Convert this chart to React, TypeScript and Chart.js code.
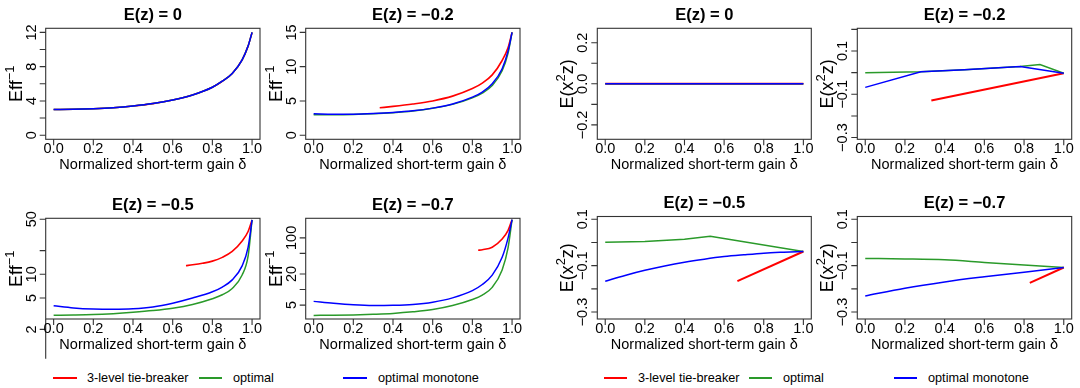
import React, { useEffect, useRef } from 'react';
import { Chart, registerables } from 'chart.js';
Chart.register(...registerables);

const FONT = '"Liberation Sans", Arial, Helvetica, sans-serif';
const RED = '#FF0000';
const GREEN = '#2a9a2a';
const BLUE = '#0000FF';
const AXIS_COLOR = '#333333';

const X_TICKS = [0, 0.2, 0.4, 0.6, 0.8, 1];
const X_TICK_LABELS = ['0.0', '0.2', '0.4', '0.6', '0.8', '1.0'];
const X_AXIS_TITLE = 'Normalized short-term gain δ';
const TITLES = ['E(z) = 0', 'E(z) = −0.2', 'E(z) = −0.5', 'E(z) = −0.7'];
const LEGEND_LABELS = ['3-level tie-breaker', 'optimal', 'optimal monotone'];

// ---- Eff^-1 panels ----
const EFF_GRID = [0, 0.1, 0.2, 0.3, 0.4, 0.5, 0.6, 0.7, 0.8, 0.85, 0.9, 0.95, 0.98, 1];
const EFF0_ALL = [3.0, 3.02, 3.09, 3.21, 3.41, 3.69, 4.1, 4.7, 5.6, 6.3, 7.2, 8.8, 10.4, 12.0];

const EFF2_GREEN = [3.0, 3.0, 3.03, 3.12, 3.28, 3.53, 3.93, 4.5, 5.45, 6.15, 7.25, 9.4, 12.0, 15.0];
const EFF2_BLUE = [3.12, 3.05, 3.06, 3.15, 3.3, 3.55, 3.95, 4.55, 5.55, 6.3, 7.5, 9.7, 12.3, 15.0];
const EFF2_RED_X = [0.333, 0.4, 0.5, 0.6, 0.7, 0.8, 0.85, 0.9, 0.95, 0.98, 1];
const EFF2_RED = [4.0, 4.2, 4.55, 5.0, 5.7, 6.8, 7.6, 8.8, 10.9, 12.8, 15.0];

const EFF5_GREEN = [3.02, 3.04, 3.08, 3.17, 3.3, 3.47, 3.72, 4.15, 4.9, 5.5, 6.6, 9.8, 17, 49];
const EFF5_BLUE = [3.99, 3.75, 3.63, 3.6, 3.65, 3.85, 4.3, 5.0, 6.0, 6.9, 8.5, 12.8, 22, 49];
const EFF5_RED_X = [0.667, 0.7, 0.75, 0.8, 0.85, 0.9, 0.95, 0.98, 1];
const EFF5_RED = [12.9, 13.2, 13.8, 14.7, 16.4, 19.5, 26.5, 35, 49];

const EFF7_GREEN = [3.16, 3.18, 3.23, 3.32, 3.45, 3.7, 4.1, 4.9, 6.4, 7.8, 11, 24, 65, 225];
const EFF7_BLUE = [5.9, 5.4, 5.05, 4.9, 4.95, 5.15, 5.7, 6.9, 9.5, 12.5, 19, 42, 100, 225];
const EFF7_RED_X = [0.829, 0.85, 0.9, 0.95, 0.98, 1];
const EFF7_RED = [57.5, 59, 66, 95, 140, 225];

// ---- E(x^2 z) panels ----
const EX0_X = [0, 1];
const EX0_ALL = [0, 0];

const EX2_GREEN_X = [0, 0.28, 0.5, 0.78, 0.88, 1];
const EX2_GREEN = [0.0, 0.004, 0.014, 0.028, 0.038, -0.003];
const EX2_BLUE_X = [0, 0.28, 0.5, 0.78, 1];
const EX2_BLUE = [-0.068, 0.004, 0.014, 0.028, -0.003];
const EX2_RED_X = [0.333, 1];
const EX2_RED = [-0.129, -0.003];

const EX5_GREEN_X = [0, 0.2, 0.4, 0.53, 1];
const EX5_GREEN = [0.001, 0.004, 0.014, 0.027, -0.039];
const EX5_BLUE_X = [0, 0.1, 0.2, 0.3, 0.4, 0.5, 0.6, 0.7, 0.8, 0.9, 1];
const EX5_BLUE = [-0.167, -0.142, -0.12, -0.101, -0.085, -0.072, -0.061, -0.053, -0.046, -0.042, -0.039];
const EX5_RED_X = [0.667, 1];
const EX5_RED = [-0.167, -0.039];

const EX7_GREEN_X = [0, 0.2, 0.4, 0.6, 0.8, 1];
const EX7_GREEN = [-0.069, -0.071, -0.075, -0.086, -0.097, -0.108];
const EX7_BLUE_X = [0, 0.2, 0.4, 0.6, 0.8, 1];
const EX7_BLUE = [-0.231, -0.197, -0.17, -0.148, -0.128, -0.108];
const EX7_RED_X = [0.829, 1];
const EX7_RED = [-0.174, -0.108];

// ---- y axis ticks ----
const EFF0_YTICKS = [0, 2, 4, 6, 8, 10, 12];
const EFF0_YLABELS = [0, 4, 8, 12];
const EFF2_YTICKS = [0, 5, 10, 15];
const EFF2_YLABELS = [0, 5, 10, 15];
const EFF5_YTICKS = [2, 5, 10, 20, 50];
const EFF5_YLABELS = [2, 5, 10, 50];
const EFF7_YTICKS = [5, 10, 20, 50, 100];
const EFF7_YLABELS = [5, 20, 100];
const EX0_YTICKS = [-0.2, -0.1, 0, 0.1, 0.2];
const EX0_YLABELS = [-0.2, 0, 0.2];
const EX2_YTICKS = [-0.3, -0.2, -0.1, 0, 0.1, 0.2];
const EX2_YLABELS = [-0.3, -0.1, 0.1];
const EX57_YTICKS = [-0.3, -0.2, -0.1, 0, 0.1];
const EX57_YLABELS = [-0.3, -0.1, 0.1];

type Series = { x: number[]; y: number[]; color: string; width: number; smooth: boolean };
type Panel = {
  title: string;
  box: [number, number, number, number];
  yType: 'linear' | 'logarithmic';
  yMin: number;
  yMax: number;
  yTicks: number[];
  yLabels: number[];
  decimals: number;
  yTitle: { t: string; sup: boolean }[];
  axisFrom?: number;
  series: Series[];
};

const EFF_TITLE = [{ t: 'Eff', sup: false }, { t: '−1', sup: true }];
const EX_TITLE = [{ t: 'E(x', sup: false }, { t: '2', sup: true }, { t: 'z)', sup: false }];

// smooth curves (Eff panels): red slightly thinner; piecewise (E(x^2 z)) panels: red lwd 2
const s = (x: number[], y: number[], color: string, smooth: boolean, thickRed = false): Series => ({
  x, y, color, smooth, width: color === RED ? (thickRed ? 2 : 1.6) : 1.5,
});

const L1 = 45.7, R1 = 260, L2 = 305.7, R2 = 520;
const L3 = 597.3, R3 = 811.3, L4 = 857.3, R4 = 1071.7;
const T1 = 28.3, B1 = 139.3, T2 = 218.3, B2 = 319, T2R = 216.5;

// series listed top-most first (Chart.js draws the first dataset on top)
const PANELS: Panel[] = [
  {
    title: TITLES[0], box: [L1, T1, R1, B1], yType: 'linear', yMin: -0.48, yMax: 12.48,
    yTicks: EFF0_YTICKS, yLabels: EFF0_YLABELS, decimals: 0, yTitle: EFF_TITLE,
    series: [s(EFF_GRID, EFF0_ALL, BLUE, true), s(EFF_GRID, EFF0_ALL, GREEN, true), s(EFF_GRID, EFF0_ALL, RED, true)],
  },
  {
    title: TITLES[1], box: [L2, T1, R2, B1], yType: 'linear', yMin: -0.6, yMax: 15.6,
    yTicks: EFF2_YTICKS, yLabels: EFF2_YLABELS, decimals: 0, yTitle: EFF_TITLE,
    series: [s(EFF_GRID, EFF2_BLUE, BLUE, true), s(EFF_GRID, EFF2_GREEN, GREEN, true), s(EFF2_RED_X, EFF2_RED, RED, true)],
  },
  {
    title: TITLES[2], box: [L1, T2, R1, B2], yType: 'logarithmic', yMin: 2.71, yMax: 51.4,
    yTicks: EFF5_YTICKS, yLabels: EFF5_YLABELS, decimals: 0, yTitle: EFF_TITLE, axisFrom: 0.85,
    series: [s(EFF_GRID, EFF5_BLUE, BLUE, true), s(EFF_GRID, EFF5_GREEN, GREEN, true), s(EFF5_RED_X, EFF5_RED, RED, true)],
  },
  {
    title: TITLES[3], box: [L2, T2, R2, B2], yType: 'logarithmic', yMin: 2.69, yMax: 239,
    yTicks: EFF7_YTICKS, yLabels: EFF7_YLABELS, decimals: 0, yTitle: EFF_TITLE,
    series: [s(EFF_GRID, EFF7_BLUE, BLUE, true), s(EFF_GRID, EFF7_GREEN, GREEN, true), s(EFF7_RED_X, EFF7_RED, RED, true)],
  },
  {
    title: TITLES[0], box: [L3, T1, R3, B1], yType: 'linear', yMin: -0.27, yMax: 0.27,
    yTicks: EX0_YTICKS, yLabels: EX0_YLABELS, decimals: 1, yTitle: EX_TITLE,
    series: [s(EX0_X, EX0_ALL, BLUE, false), s(EX0_X, EX0_ALL, GREEN, false), s(EX0_X, EX0_ALL, RED, false, true)],
  },
  {
    title: TITLES[1], box: [L4, T1, R4, B1], yType: 'linear', yMin: -0.308, yMax: 0.205,
    yTicks: EX2_YTICKS, yLabels: EX2_YLABELS, decimals: 1, yTitle: EX_TITLE,
    series: [s(EX2_BLUE_X, EX2_BLUE, BLUE, false), s(EX2_GREEN_X, EX2_GREEN, GREEN, false), s(EX2_RED_X, EX2_RED, RED, false, true)],
  },
  {
    title: TITLES[2], box: [L3, T2R, R3, B2], yType: 'linear', yMin: -0.33, yMax: 0.112,
    yTicks: EX57_YTICKS, yLabels: EX57_YLABELS, decimals: 1, yTitle: EX_TITLE,
    series: [s(EX5_BLUE_X, EX5_BLUE, BLUE, true), s(EX5_GREEN_X, EX5_GREEN, GREEN, false), s(EX5_RED_X, EX5_RED, RED, false, true)],
  },
  {
    title: TITLES[3], box: [L4, T2R, R4, B2], yType: 'linear', yMin: -0.33, yMax: 0.112,
    yTicks: EX57_YTICKS, yLabels: EX57_YLABELS, decimals: 1, yTitle: EX_TITLE,
    series: [s(EX7_BLUE_X, EX7_BLUE, BLUE, true), s(EX7_GREEN_X, EX7_GREEN, GREEN, true), s(EX7_RED_X, EX7_RED, RED, false, true)],
  },
];

const fmt = (v: number, d: number) => {
  const str = Math.abs(v) < 1e-9 ? (0).toFixed(d) : v.toFixed(d);
  return str.replace('-', '−');
};

const TICK = 6;

const rAxes = {
  id: 'rAxes',
  afterDatasetsDraw(chart: any, _args: any, o: any) {
    const { ctx, chartArea: a } = chart;
    const xs = chart.scales.x;
    const ys = chart.scales.y;
    ctx.save();
    ctx.strokeStyle = AXIS_COLOR;
    ctx.fillStyle = '#000';
    ctx.lineWidth = 1.1;
    ctx.strokeRect(a.left, a.top, a.right - a.left, a.bottom - a.top);

    ctx.beginPath();
    X_TICKS.forEach((v) => {
      const px = xs.getPixelForValue(v);
      ctx.moveTo(px, a.bottom);
      ctx.lineTo(px, a.bottom + TICK);
    });
    o.yTicks.forEach((v: number) => {
      const py = ys.getPixelForValue(v);
      ctx.moveTo(a.left - TICK, py);
      ctx.lineTo(a.left, py);
    });
    if (o.axisFrom !== undefined) {
      ctx.moveTo(a.left, a.bottom);
      ctx.lineTo(a.left, ys.getPixelForValue(o.axisFrom));
    }
    ctx.stroke();

    ctx.textAlign = 'center';
    ctx.textBaseline = 'middle';
    ctx.font = `14.5px ${FONT}`;
    X_TICKS.forEach((v, i) => ctx.fillText(X_TICK_LABELS[i], xs.getPixelForValue(v), a.bottom + 9.5));
    o.yLabels.forEach((v: number) => {
      const py = ys.getPixelForValue(v);
      ctx.save();
      ctx.translate(a.left - 14, py);
      ctx.rotate(-Math.PI / 2);
      ctx.fillText(fmt(v, o.decimals), 0, 0);
      ctx.restore();
    });

    ctx.fillText(X_AXIS_TITLE, (a.left + a.right) / 2, a.bottom + 25.5);

    ctx.font = `bold 16.5px ${FONT}`;
    ctx.fillText(o.title, (a.left + a.right) / 2, a.top - 13);

    // y title with superscript
    const parts = o.yTitle as { t: string; sup: boolean }[];
    const mainF = `18px ${FONT}`;
    const supF = `13px ${FONT}`;
    let total = 0;
    const widths = parts.map((p) => {
      ctx.font = p.sup ? supF : mainF;
      const w = ctx.measureText(p.t).width;
      total += w;
      return w;
    });
    ctx.save();
    ctx.translate(a.left - 29, (a.top + a.bottom) / 2);
    ctx.rotate(-Math.PI / 2);
    ctx.textAlign = 'left';
    let x = -total / 2;
    parts.forEach((p, i) => {
      ctx.font = p.sup ? supF : mainF;
      ctx.fillText(p.t, x, p.sup ? -6.5 : 0);
      x += widths[i];
    });
    ctx.restore();
    ctx.restore();
  },
};

function geom(box: [number, number, number, number]) {
  const [l, t, r, b] = box;
  const left = Math.floor(l - 50);
  const top = Math.floor(t - 30);
  const right = Math.ceil(r + 10);
  const bottom = Math.ceil(b + 42);
  return {
    left, top, w: right - left, h: bottom - top,
    pad: { left: l - left, top: t - top, right: right - r, bottom: bottom - b },
  };
}

function PanelChart({ p }: { p: Panel }) {
  const ref = useRef<HTMLCanvasElement>(null);
  const g = geom(p.box);
  useEffect(() => {
    const chart = new Chart(ref.current!, {
      type: 'line',
      data: {
        datasets: p.series.map((se) => ({
          data: se.x.map((x, i) => ({ x, y: se.y[i] })),
          borderColor: se.color,
          backgroundColor: se.color,
          borderWidth: se.width,
          pointRadius: 0,
          fill: false,
          tension: se.smooth ? 0.4 : 0,
          cubicInterpolationMode: se.smooth ? 'monotone' : 'default',
        })),
      },
      options: {
        animation: false,
        responsive: false,
        devicePixelRatio: 1,
        events: [],
        layout: { padding: g.pad },
        scales: {
          x: { type: 'linear', display: false, min: -0.04, max: 1.04 },
          y: { type: p.yType, display: false, min: p.yMin, max: p.yMax },
        },
        plugins: {
          legend: { display: false },
          title: { display: false },
          tooltip: { enabled: false },
          rAxes: {
            title: p.title, yTicks: p.yTicks, yLabels: p.yLabels, decimals: p.decimals,
            yTitle: p.yTitle, axisFrom: p.axisFrom,
          },
        } as any,
      },
      plugins: [rAxes as any],
    } as any);
    return () => chart.destroy();
  }, []);
  return (
    <canvas
      ref={ref}
      width={g.w}
      height={g.h}
      style={{ position: 'absolute', left: g.left, top: g.top, width: g.w, height: g.h }}
    />
  );
}

const LEGEND_COLORS = [RED, GREEN, BLUE];
const LEGEND_LEFT = [
  { l0: 53, l1: 77, tx: 87 },
  { l0: 199, l1: 222, tx: 233 },
  { l0: 343, l1: 367, tx: 378 },
];
const LEGEND_RIGHT = [
  { l0: 604, l1: 627, tx: 638 },
  { l0: 749, l1: 772, tx: 783 },
  { l0: 894, l1: 917, tx: 928 },
];
const LEGEND_Y = 378;

function Legend({ items }: { items: { l0: number; l1: number; tx: number }[] }) {
  return (
    <>
      {items.map((it, i) => (
        <React.Fragment key={i}>
          <div
            style={{
              position: 'absolute', left: it.l0, top: LEGEND_Y - 1, width: it.l1 - it.l0, height: 2,
              background: LEGEND_COLORS[i],
            }}
          />
          <div
            style={{
              position: 'absolute', left: it.tx, top: LEGEND_Y - 9, height: 18, lineHeight: '18px',
              fontFamily: FONT, fontSize: 12.7, color: '#000', whiteSpace: 'nowrap',
            }}
          >
            {LEGEND_LABELS[i]}
          </div>
        </React.Fragment>
      ))}
    </>
  );
}

export default function App() {
  return (
    <div style={{ position: 'absolute', left: 0, top: 0, width: 1080, height: 388, background: '#fff', overflow: 'hidden' }}>
      {PANELS.map((p, i) => (
        <PanelChart key={i} p={p} />
      ))}
      <Legend items={LEGEND_LEFT} />
      <Legend items={LEGEND_RIGHT} />
    </div>
  );
}
